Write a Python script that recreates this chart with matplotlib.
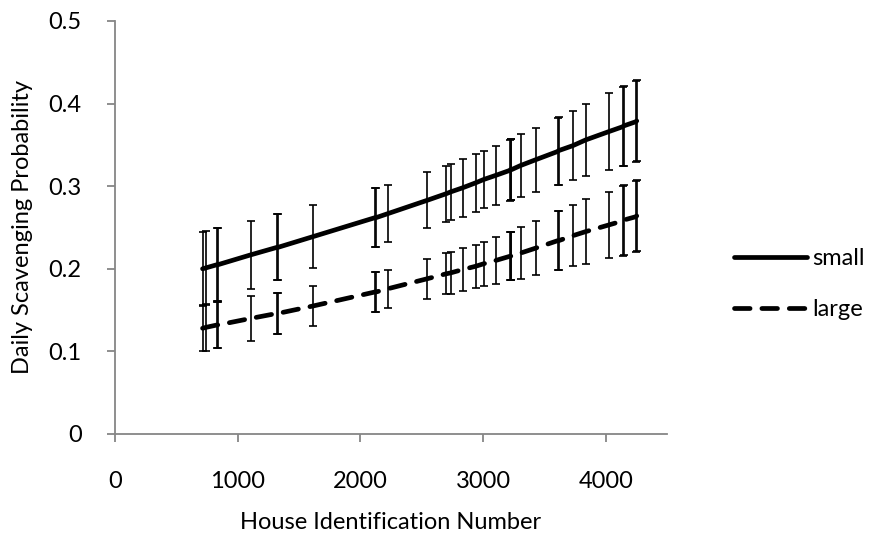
import matplotlib
matplotlib.use("Agg")
import matplotlib.pyplot as plt

plt.rcParams['font.family'] = ['Lato', 'DejaVu Sans']

# house ids (repeated ids sit a few units apart, like the overlapping bars)
house = [714, 739, 833, 841, 1110, 1322, 1330, 1616, 2122, 2130, 2229, 2547,
         2702, 2735, 2833, 2939, 3004, 3102, 3216, 3224, 3232, 3306, 3429,
         3608, 3616, 3731, 3837, 4024, 4139, 4147, 4245, 4253]

small = [0.200, 0.201, 0.205, 0.205, 0.217, 0.226, 0.226, 0.239, 0.262, 0.262,
         0.267, 0.283, 0.291, 0.293, 0.298, 0.304, 0.308, 0.313, 0.319, 0.320,
         0.320, 0.325, 0.332, 0.342, 0.343, 0.349, 0.356, 0.366, 0.372, 0.373,
         0.378, 0.379]
small_err = [0.045, 0.045, 0.044, 0.044, 0.041, 0.040, 0.040, 0.038, 0.036,
             0.036, 0.035, 0.034, 0.034, 0.034, 0.035, 0.035, 0.035, 0.036,
             0.037, 0.037, 0.037, 0.038, 0.039, 0.041, 0.041, 0.042, 0.044,
             0.047, 0.048, 0.048, 0.049, 0.049]

large = [0.128, 0.129, 0.132, 0.132, 0.140, 0.146, 0.146, 0.155, 0.172, 0.172,
         0.176, 0.188, 0.194, 0.195, 0.199, 0.203, 0.206, 0.210, 0.215, 0.215,
         0.216, 0.219, 0.225, 0.234, 0.234, 0.240, 0.245, 0.253, 0.258, 0.259,
         0.263, 0.264]
large_err = [0.028, 0.028, 0.028, 0.028, 0.027, 0.025, 0.025, 0.024, 0.024,
             0.024, 0.023, 0.024, 0.025, 0.025, 0.026, 0.026, 0.027, 0.028,
             0.029, 0.029, 0.029, 0.031, 0.033, 0.036, 0.036, 0.037, 0.039,
             0.040, 0.042, 0.042, 0.043, 0.043]

FS = 17
axis_grey = '#868686'

fig = plt.figure(figsize=(8.69, 5.42), dpi=100)
ax = fig.add_axes([0.1323, 0.1993, 0.6353, 0.7620])

# error bars
ax.errorbar(house, small, yerr=small_err, fmt='none', ecolor='black',
            elinewidth=1.2, capsize=3.2, capthick=1.2, zorder=2)
ax.errorbar(house, large, yerr=large_err, fmt='none', ecolor='black',
            elinewidth=1.2, capsize=3.2, capthick=1.2, zorder=2)

# fitted lines
ax.plot(house, small, color='black', lw=3.4, solid_capstyle='round',
        label='small', zorder=3)
ax.plot(house, large, color='black', lw=3.4, dashes=(3.3, 2.5),
        dash_capstyle='round', label='large', zorder=3)

ax.set_xlim(0, 4500)
ax.set_ylim(0, 0.5)
ax.set_xticks([0, 1000, 2000, 3000, 4000])
ax.set_yticks([0, 0.1, 0.2, 0.3, 0.4, 0.5])
ax.set_yticklabels(['0', '0.1', '0.2', '0.3', '0.4', '0.5'])

for s in ['top', 'right']:
    ax.spines[s].set_visible(False)
for s in ['left', 'bottom']:
    ax.spines[s].set_color(axis_grey)
    ax.spines[s].set_linewidth(1.3)
ax.tick_params(axis='both', colors=axis_grey, direction='out', length=6,
               width=1.3, labelcolor='black', labelsize=FS)
ax.tick_params(axis='x', pad=21)
ax.tick_params(axis='y', pad=18)

ax.set_xlabel('House Identification Number', fontsize=FS)
ax.set_ylabel('Daily Scavenging Probability', fontsize=FS)
ax.xaxis.set_label_coords(0.5, -0.19)
ax.yaxis.set_label_coords(-0.149, 0.5)

fig.legend(loc='center left', bbox_to_anchor=(0.845, 0.476), frameon=False,
           fontsize=FS, handlelength=3.1, handletextpad=0.2, labelspacing=1.25,
           borderpad=0, borderaxespad=0)

fig.savefig('out.png', dpi=100)
